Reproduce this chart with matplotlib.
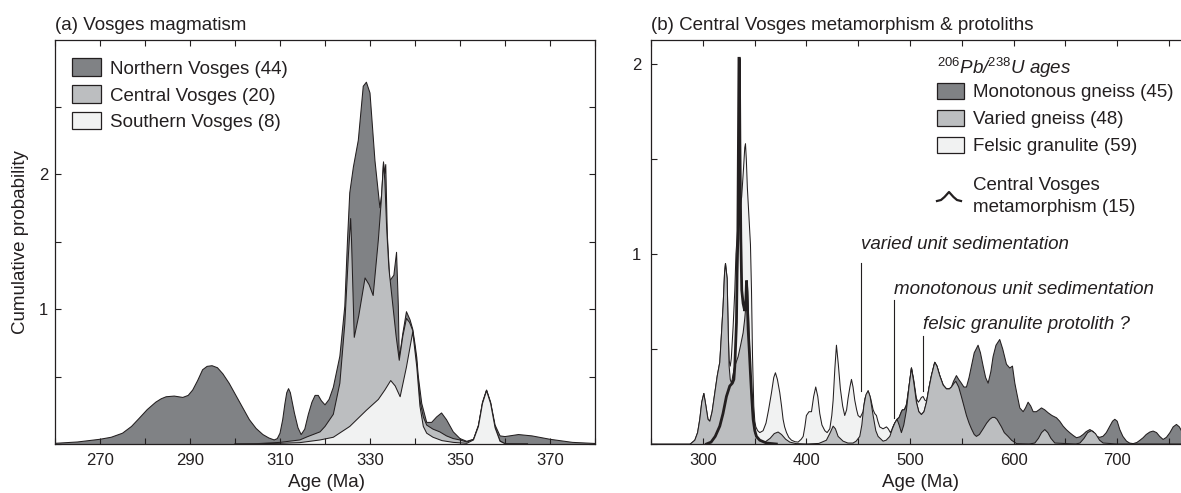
import matplotlib
matplotlib.use("Agg")
import matplotlib.pyplot as plt
from matplotlib.patches import Rectangle
from matplotlib.lines import Line2D
from matplotlib.ticker import MultipleLocator

# ---------------------------------------------------------------------------
# (a) Vosges magmatism: stacked probability curves (cumulative outlines)
# ---------------------------------------------------------------------------
a_total_age = [260, 265, 270, 272.5, 275, 277, 278.7, 280.5, 282.4, 283.6,
               284.7, 286.5, 288.4, 289.6, 290.6, 291.7, 292.8, 293.8, 294.9, 296.1,
               297.3, 298.7, 300.2, 301.7, 303.2, 304.7, 306.2, 307.5, 308.7, 309.4,
               310.0, 310.6, 311.1, 311.5, 311.9, 312.3, 312.6, 313.2, 314.0, 314.7,
               315.5, 316.3, 317.1, 317.8, 318.5, 319.2, 320.0, 320.9, 321.85, 323.3,
               324.4, 325.0, 325.5, 326.3, 327.4, 328.5, 329.2, 330.0, 331.1, 332.2,
               332.6, 333.0, 333.25, 333.5, 333.85, 334.4, 335.3, 335.9, 336.3, 336.5,
               337.3, 338.1, 338.9, 339.5, 340.0, 340.4, 340.7, 341.5, 342.6, 343.7,
               344.8, 345.9, 347.0, 348.5, 350.0, 351.5, 353.0, 354.1, 355.0, 355.9,
               356.8, 357.8, 358.9, 360.0, 363.0, 366.0, 370.0, 375.0, 380.0]
a_total_cum = [0.005, 0.015, 0.035, 0.05, 0.08, 0.13, 0.19, 0.255, 0.31, 0.335,
               0.35, 0.355, 0.345, 0.36, 0.40, 0.47, 0.55, 0.575, 0.58, 0.565,
               0.52, 0.45, 0.36, 0.27, 0.18, 0.115, 0.07, 0.045, 0.03, 0.04,
               0.08, 0.18, 0.30, 0.38, 0.41, 0.38, 0.33, 0.23, 0.12, 0.07,
               0.11, 0.22, 0.31, 0.36, 0.36, 0.32, 0.29, 0.33, 0.42, 0.65,
               1.02, 1.51, 1.86, 2.05, 2.25, 2.65, 2.68, 2.60, 2.10, 1.75,
               1.85, 2.09, 2.00, 2.07, 1.55, 1.21, 1.25, 1.42, 1.02, 0.63,
               0.82, 0.98, 0.92, 0.85, 0.74, 0.64, 0.51, 0.30, 0.16, 0.16,
               0.20, 0.23, 0.18, 0.09, 0.04, 0.02, 0.035, 0.14, 0.31, 0.40,
               0.31, 0.14, 0.06, 0.055, 0.07, 0.06, 0.035, 0.012, 0.004]

a_central_age = [300, 305, 310, 314.4, 316.1, 318.9, 320.0, 321.85, 323.3, 324.4,
                 325.2, 325.7, 325.9, 326.5, 327.5, 328.9, 329.8, 330.7, 331.85, 332.5,
                 333.0, 333.3, 333.7, 334.2, 335.0, 335.8, 336.5, 337.3, 338.1, 338.8,
                 339.5, 340.4, 341.1, 341.85, 342.6, 344.0, 345.5, 347.0, 348.5, 350.0,
                 351.5, 353.0, 354.1, 355.0, 355.9, 356.8, 357.8, 358.9, 360.0, 365.0]
a_central_cum = [0.0, 0.003, 0.012, 0.03, 0.054, 0.09, 0.13, 0.22, 0.45, 0.89,
                 1.40, 1.67, 1.50, 0.79, 0.95, 1.23, 1.18, 1.10, 1.51, 1.80,
                 2.08, 1.95, 1.60, 1.30, 1.05, 0.80, 0.62, 0.80, 0.93, 0.90,
                 0.84, 0.60, 0.32, 0.20, 0.14, 0.11, 0.09, 0.06, 0.04, 0.03,
                 0.015, 0.033, 0.132, 0.302, 0.397, 0.302, 0.122, 0.022, 0.003, 0.0]

a_south_age = [300, 310, 314.4, 318.9, 321.85, 325.5, 329.2, 331.85, 333.3, 334.6,
               335.6, 336.7, 338.1, 339.5, 340.4, 341.1, 341.85, 342.6, 344.0, 346.0,
               348.5, 351.5, 353.0, 354.1, 355.0, 355.9, 356.8, 357.8, 358.9, 360.0,
               365.0]
a_south_cum = [0.0, 0.005, 0.01, 0.03, 0.05, 0.13, 0.25, 0.33, 0.40, 0.47,
               0.43, 0.35, 0.57, 0.83, 0.57, 0.28, 0.13, 0.08, 0.05, 0.025,
               0.012, 0.005, 0.03, 0.13, 0.30, 0.395, 0.30, 0.12, 0.02, 0.002,
               0.0]

a_labels = ["Northern Vosges (44)", "Central Vosges (20)", "Southern Vosges (8)"]

# ---------------------------------------------------------------------------
# (b) Central Vosges metamorphism & protoliths
# ---------------------------------------------------------------------------
b_varied_age = [250, 288, 292.3, 295, 297.1, 299, 301, 303, 305, 306.8,
                309, 311.6, 314, 316.4, 318, 319.6, 321, 321.9, 322.5, 323.5,
                324.5, 325.4, 326.5, 327.7, 329, 330.9, 334.1, 336.5, 338.9, 340.5,
                341.5, 342.2, 342.8, 343.5, 344.5, 345.4, 346.5, 348, 350.2, 352.5,
                355, 360, 365, 369, 372.7, 376, 380, 384, 390, 400,
                412, 419.3, 423, 425.8, 428, 430.6, 435.4, 440, 445, 448,
                451.5, 453.5, 455.4, 457.5, 459.6, 461.5, 464.4, 467, 469.2, 474,
                477, 480.5, 483, 485.3, 487.5, 489.5, 491.7, 494, 496.6, 499,
                501.4, 503.5, 506.2, 508.5, 511, 513.5, 515.9, 518.5, 520.7, 523.9,
                526, 528.7, 532, 535.2, 538, 540, 542.5, 544.2, 547, 549.6,
                552, 554.5, 557, 559.3, 562, 564.1, 567, 570.6, 574, 577,
                579.5, 581.8, 584, 588.3, 591, 594.7, 598, 602.8, 615, 620.5,
                624, 627, 630.1, 633, 636, 639.8, 660, 664, 668, 671.5,
                675.2, 679, 683, 686.4, 700, 771]
b_varied_cum = [0, 0, 0.02, 0.06, 0.13, 0.22, 0.266, 0.2, 0.13, 0.12,
                0.17, 0.27, 0.36, 0.43, 0.58, 0.725, 0.9, 0.95, 0.92, 0.87,
                0.6, 0.41, 0.34, 0.32, 0.36, 0.41, 0.46, 0.52, 0.585, 0.66,
                0.725, 0.8, 0.86, 0.8, 0.62, 0.46, 0.3, 0.165, 0.06, 0.03,
                0.02, 0.01, 0.03, 0.055, 0.063, 0.05, 0.025, 0.01, 0.002, 0,
                0.003, 0.02, 0.06, 0.094, 0.08, 0.04, 0.015, 0.005, 0.005, 0.015,
                0.04, 0.1, 0.2, 0.26, 0.28, 0.25, 0.15, 0.07, 0.04, 0.015,
                0.02, 0.04, 0.08, 0.11, 0.13, 0.1, 0.06, 0.1, 0.18, 0.3,
                0.40, 0.33, 0.22, 0.17, 0.155, 0.17, 0.22, 0.3, 0.36, 0.43,
                0.41, 0.36, 0.31, 0.29, 0.29, 0.30, 0.32, 0.33, 0.3, 0.25,
                0.2, 0.15, 0.11, 0.08, 0.05, 0.04, 0.05, 0.08, 0.11, 0.13,
                0.14, 0.14, 0.13, 0.09, 0.06, 0.04, 0.02, 0.002, 0, 0.005,
                0.03, 0.06, 0.076, 0.06, 0.03, 0.005, 0, 0.005, 0.03, 0.06,
                0.07, 0.055, 0.02, 0.005, 0, 0]

# varied + monotonous gneiss
b_mono_age = [483, 485.3, 487.5, 489.5, 491.7, 492.7, 494.5, 496.6, 499, 501.4,
              503.5, 506.2, 508.5, 511, 513.5, 515.9, 518.5, 520.7, 523.9, 526,
              528.7, 532, 535.2, 538, 540, 542, 544.8, 547, 549.6, 552,
              554.5, 557, 559.3, 562, 565.7, 568, 570.6, 573, 575.4, 578,
              580.2, 583, 586.6, 589.5, 593.1, 596.3, 598.9, 601.2, 603, 606,
              609.2, 611.5, 614, 616.5, 618.9, 622, 624.5, 626.9, 630, 633.4,
              637, 641.4, 644.5, 647.8, 651, 654.3, 657.5, 660.7, 664, 667.1,
              670, 673.6, 677, 680, 683, 686.4, 689.5, 692.9, 695.5, 697.7,
              700, 702.5, 705.5, 709, 712, 715.4, 719, 722, 725, 728,
              731.5, 734.7, 738, 741, 744.3, 747.5, 750.8, 754, 757.2, 760,
              763, 766, 771]
b_mono_cum = [0.08, 0.11, 0.13, 0.14, 0.17, 0.18, 0.18, 0.2, 0.3, 0.40,
              0.33, 0.22, 0.17, 0.155, 0.17, 0.22, 0.3, 0.36, 0.43, 0.41,
              0.36, 0.31, 0.29, 0.29, 0.30, 0.33, 0.36, 0.34, 0.32, 0.30,
              0.30, 0.35, 0.41, 0.48, 0.52, 0.48, 0.41, 0.35, 0.32, 0.38,
              0.46, 0.52, 0.55, 0.50, 0.42, 0.40, 0.41, 0.32, 0.27, 0.19,
              0.17, 0.19, 0.22, 0.20, 0.17, 0.17, 0.18, 0.19, 0.18, 0.164,
              0.15, 0.138, 0.12, 0.094, 0.075, 0.059, 0.045, 0.033, 0.038, 0.05,
              0.065, 0.076, 0.065, 0.041, 0.035, 0.041, 0.06, 0.094, 0.12, 0.13,
              0.12, 0.076, 0.04, 0.015, 0.005, 0.002, 0.008, 0.02, 0.033, 0.05,
              0.063, 0.068, 0.06, 0.04, 0.024, 0.035, 0.059, 0.09, 0.103, 0.09,
              0.06, 0.04, 0.03]

# varied + monotonous + felsic granulite (total)
b_total_age = [288, 292.3, 295, 297.1, 299, 301, 303, 305, 306.8, 309,
               311.6, 314, 316.4, 318, 319.6, 321, 321.9, 322.5, 323.5, 324.5,
               325.4, 326.5, 327.5, 329.3, 330.9, 332, 333.5, 335.5, 337.5, 339.3,
               340.5, 341.2, 342, 343, 344.5, 346, 347, 348, 349.2, 350.2,
               351.2, 353, 355, 358.2, 361, 363.5, 366.3, 368.5, 370.1, 372,
               374.3, 376, 377.5, 379, 380.8, 383, 385.6, 389, 392, 395,
               396.9, 398.5, 400, 402.5, 404.9, 407, 409, 411, 412.9, 415,
               417.8, 420, 422.6, 424.5, 425.8, 427.5, 429, 430.8, 432.8, 435,
               437, 438.8, 440.2, 442, 443.5, 445, 446.7, 448.5, 449.9, 452,
               454.7, 456.5, 459.6, 462, 464.4, 466, 467.6, 469, 470.8, 474,
               477.3, 479, 481.1, 482.5, 484.3, 487.5, 489.5, 491.7, 492.7, 494.5,
               496.6, 499, 501.4, 503.5, 506.2, 508, 509.4, 511, 512.6, 514.5,
               516.2, 518.5, 520.7, 523.9, 526, 528.7, 532, 535.2, 538, 540]
b_total_cum = [0, 0.02, 0.06, 0.13, 0.22, 0.266, 0.2, 0.13, 0.12, 0.17,
               0.27, 0.36, 0.43, 0.58, 0.725, 0.9, 0.95, 0.92, 0.87, 0.6,
               0.44, 0.41, 0.45, 0.62, 0.81, 1.0, 1.12, 1.22, 1.3, 1.45,
               1.56, 1.58, 1.5, 1.35, 1.2, 1.05, 0.81, 0.46, 0.2, 0.12,
               0.09, 0.07, 0.06, 0.07, 0.11, 0.18, 0.27, 0.35, 0.375, 0.34,
               0.27, 0.2, 0.13, 0.09, 0.06, 0.035, 0.02, 0.012, 0.01, 0.025,
               0.04, 0.09, 0.15, 0.17, 0.17, 0.25, 0.30, 0.25, 0.16, 0.1,
               0.07, 0.06, 0.08, 0.15, 0.23, 0.4, 0.52, 0.42, 0.29, 0.2,
               0.15, 0.18, 0.24, 0.3, 0.34, 0.3, 0.23, 0.18, 0.15, 0.14,
               0.17, 0.24, 0.28, 0.24, 0.18, 0.16, 0.15, 0.12, 0.09, 0.08,
               0.09, 0.08, 0.06, 0.075, 0.1, 0.13, 0.14, 0.17, 0.18, 0.18,
               0.21, 0.3, 0.40, 0.34, 0.24, 0.22, 0.23, 0.245, 0.25, 0.23,
               0.225, 0.3, 0.36, 0.43, 0.41, 0.36, 0.31, 0.29, 0.29, 0.30]

# Central Vosges metamorphism
b_meta_age = [303.5, 308, 312, 316.4, 319.5, 322.8, 326, 328.5, 330, 330.9,
              332.5, 333.1, 333.8, 334.4, 334.9, 335.3, 335.8, 336.7, 337.6, 338.9,
              340.5, 341.5, 342.2, 342.9, 343.8, 345, 346, 347.3, 348.6, 350.2,
              351.8, 355, 361.5, 371]
b_meta_cum = [0.0, 0.01, 0.04, 0.094, 0.16, 0.25, 0.305, 0.32, 0.34, 0.41,
              0.64, 0.9, 1.08, 1.6, 2.03, 2.03, 1.6, 1.08, 0.81, 0.74,
              0.70, 0.75, 0.86, 0.75, 0.6, 0.48, 0.37, 0.24, 0.13, 0.07,
              0.04, 0.02, 0.005, 0.0]

b_labels = ["Monotonous gneiss (45)", "Varied gneiss (48)", "Felsic granulite (59)"]
b_meta_label = ["Central Vosges", "metamorphism (15)"]

# annotation marks: text, age, line bottom, line top, text baseline
note_text = ["varied unit sedimentation", "monotonous unit sedimentation",
             "felsic granulite protolith ?"]
note_age = [452.5, 484.7, 512.3]
note_low = [0.278, 0.138, 0.278]
note_high = [0.955, 0.76, 0.567]
note_text_y = [1.024, 0.787, 0.603]

# ---------------------------------------------------------------------------
plt.rcParams["font.family"] = ["Liberation Sans", "DejaVu Sans"]
plt.rcParams["mathtext.fontset"] = "custom"
plt.rcParams["mathtext.rm"] = "Liberation Sans"
plt.rcParams["mathtext.it"] = "Liberation Sans:italic"
plt.rcParams["mathtext.bf"] = "Liberation Sans:bold"

W, H = 1181, 493
fig = plt.figure(figsize=(W / 100, H / 100), dpi=100)


def fx(x):
    return x / W


def fy(y):
    return 1 - y / H


DARK, MID, LIGHT, INK = "#808285", "#bcbec0", "#f1f2f2", "#231f20"
FS = 13.5
TFS = 12

ax_a = fig.add_axes([fx(55), fy(444), 540 / W, 404 / H])
ax_b = fig.add_axes([fx(651), fy(444), 540 / W, 404 / H])


def layer(ax, x, y, color, z):
    ax.fill_between(x, y, 0, facecolor=color, edgecolor="none", zorder=z)
    ax.plot(x, y, color=INK, lw=0.75, zorder=z + 0.05)


# panel a: stacked from the top outline down
layer(ax_a, a_total_age, a_total_cum, DARK, 1.0)
layer(ax_a, a_central_age, a_central_cum, MID, 1.1)
layer(ax_a, a_south_age, a_south_cum, LIGHT, 1.2)
ax_a.set_xlim(260, 380)
ax_a.set_ylim(0, 404 / 135)
ax_a.set_xticks(range(270, 371, 20))
ax_a.xaxis.set_minor_locator(MultipleLocator(10))
ax_a.set_yticks([1, 2])
ax_a.yaxis.set_minor_locator(MultipleLocator(0.5))

# panel b
layer(ax_b, b_total_age, b_total_cum, LIGHT, 1.0)
layer(ax_b, b_mono_age, b_mono_cum, DARK, 1.1)
layer(ax_b, b_varied_age, b_varied_cum, MID, 1.2)
ax_b.plot(b_meta_age, b_meta_cum, color=INK, lw=2.0, zorder=1.6,
          solid_joinstyle="miter")
for t, xa, lo, hi, ty in zip(note_text, note_age, note_low, note_high, note_text_y):
    ax_b.plot([xa, xa], [lo, hi], color=INK, lw=0.8, zorder=1.7)
    ax_b.text(xa, ty, t, style="italic", fontsize=FS, va="baseline", ha="left",
              color=INK)
ax_b.set_xlim(250, 250 + 540 / 1.036)
ax_b.set_ylim(0, 404 / 190)
ax_b.set_xticks(range(300, 701, 100))
ax_b.xaxis.set_minor_locator(MultipleLocator(50))
ax_b.set_yticks([1, 2])
ax_b.yaxis.set_minor_locator(MultipleLocator(0.5))

for ax, ypad in ((ax_a, 5), (ax_b, 7)):
    ax.set_axisbelow(False)
    for s in ax.spines.values():
        s.set_linewidth(0.9)
        s.set_color(INK)
    ax.tick_params(which="both", direction="in", top=True, right=True,
                   length=4.5, width=0.8, color=INK, labelsize=TFS,
                   labelcolor=INK)
    ax.tick_params(axis="x", which="both", pad=6.5)
    ax.tick_params(axis="y", which="both", pad=ypad)

# titles and axis labels
fig.text(fx(55), fy(30), "(a) Vosges magmatism", fontsize=FS, va="baseline",
         color=INK)
fig.text(fx(651), fy(30), "(b) Central Vosges metamorphism & protoliths",
         fontsize=FS, va="baseline", color=INK)
fig.text(fx(21), fy(242), "Cumulative probability", rotation=90, ha="center",
         va="center", fontsize=FS, color=INK)
fig.text(fx(326), fy(487), "Age (Ma)", ha="center", va="baseline", fontsize=FS,
         color=INK)
fig.text(fx(920), fy(487), "Age (Ma)", ha="center", va="baseline", fontsize=FS,
         color=INK)

# legend (a)
for lab, col, cy in zip(a_labels, [DARK, MID, LIGHT], [67.2, 93.8, 120.5]):
    fig.add_artist(Rectangle((fx(72), fy(cy + 8.8)), 29 / W, 17.6 / H,
                             transform=fig.transFigure, facecolor=col,
                             edgecolor=INK, lw=0.9))
    fig.text(fx(110), fy(cy + 6.8), lab, fontsize=FS, va="baseline", color=INK)

# legend (b)
fig.text(fx(937), fy(74), r"$^{206}\mathit{Pb}$/$^{238}\mathit{U}$ ages",
         style="italic", fontsize=FS, va="baseline", color=INK)
for lab, col, cy in zip(b_labels, [DARK, MID, LIGHT], [91.3, 118.0, 145.0]):
    fig.add_artist(Rectangle((fx(937), fy(cy + 8)), 27 / W, 16 / H,
                             transform=fig.transFigure, facecolor=col,
                             edgecolor=INK, lw=0.9))
    fig.text(fx(973), fy(cy + 5.7), lab, fontsize=FS, va="baseline", color=INK)

glyph_x = [937, 941, 944.5, 949, 953.5, 957, 961]
glyph_y = [201, 200, 197, 192, 197, 200, 201]
fig.add_artist(Line2D([fx(v) for v in glyph_x], [fy(v) for v in glyph_y],
                      transform=fig.transFigure, color=INK, lw=1.6))
fig.text(fx(973), fy(190), b_meta_label[0], fontsize=FS, va="baseline", color=INK)
fig.text(fx(973), fy(211.7), b_meta_label[1], fontsize=FS, va="baseline",
         color=INK)

fig.savefig("out.png", dpi=100)
